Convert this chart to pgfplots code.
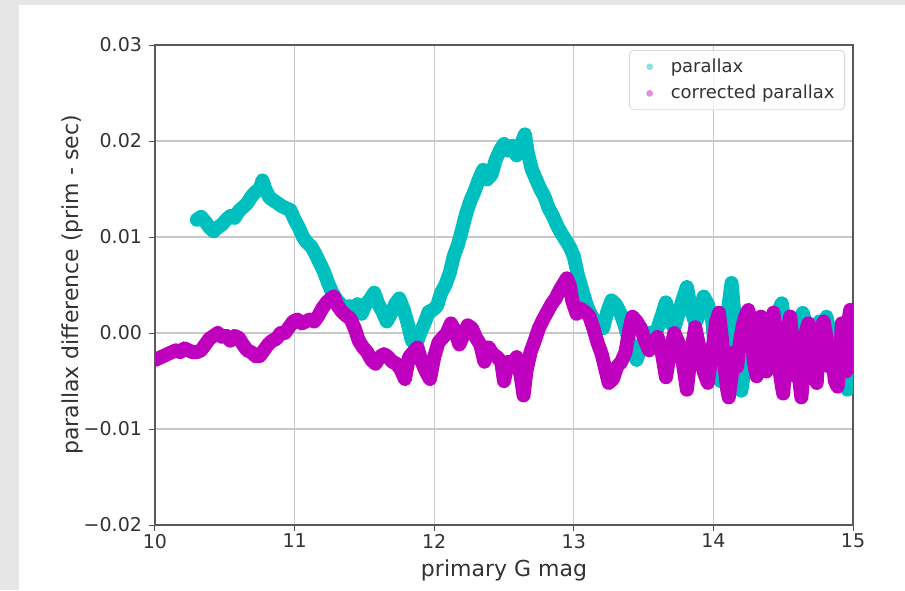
\documentclass[border=0pt]{standalone}
\usepackage{pgfplots}
\pgfplotsset{compat=1.18}
\usepackage{fontspec}
\setmainfont{DejaVu Sans}

\definecolor{mplc}{HTML}{00BFBF}
\definecolor{mplm}{HTML}{BF00BF}
\definecolor{pagegray}{HTML}{E6E6E6}
\definecolor{gridgray}{HTML}{C8C8C8}

% parallax difference (primary - secondary) vs primary G magnitude
\pgfplotstableread{
mag diff
10.30 0.0118
10.33 0.0121
10.36 0.0116
10.39 0.0110
10.42 0.0106
10.45 0.0110
10.48 0.0113
10.51 0.0118
10.54 0.0122
10.57 0.0120
10.60 0.0127
10.63 0.0131
10.66 0.0135
10.69 0.0142
10.72 0.0147
10.75 0.0150
10.77 0.0159
10.79 0.0150
10.82 0.0141
10.85 0.0138
10.88 0.0135
10.91 0.0132
10.94 0.0130
10.97 0.0128
11.00 0.0118
11.03 0.0110
11.06 0.0100
11.09 0.0094
11.12 0.0090
11.15 0.0082
11.18 0.0073
11.21 0.0064
11.24 0.0052
11.27 0.0042
11.30 0.0035
11.33 0.0030
11.36 0.0026
11.39 0.0028
11.42 0.0024
11.45 0.0030
11.48 0.0020
11.51 0.0030
11.54 0.0035
11.57 0.0042
11.60 0.0030
11.63 0.0022
11.66 0.0012
11.69 0.0020
11.72 0.0030
11.75 0.0036
11.78 0.0025
11.81 0.0010
11.84 -0.0008
11.87 -0.0012
11.90 0.0000
11.93 0.0010
11.96 0.0022
11.99 0.0024
12.02 0.0028
12.05 0.0042
12.08 0.0050
12.11 0.0062
12.14 0.0080
12.17 0.0092
12.20 0.0108
12.23 0.0125
12.26 0.0138
12.29 0.0148
12.32 0.0160
12.35 0.0170
12.38 0.0160
12.41 0.0165
12.44 0.0180
12.47 0.0190
12.50 0.0197
12.53 0.0190
12.56 0.0195
12.59 0.0185
12.62 0.0196
12.65 0.0207
12.67 0.0188
12.70 0.0170
12.73 0.0160
12.76 0.0150
12.79 0.0142
12.82 0.0130
12.85 0.0122
12.88 0.0112
12.91 0.0104
12.94 0.0097
12.97 0.0090
13.00 0.0080
13.03 0.0060
13.06 0.0045
13.09 0.0030
13.12 0.0020
13.15 0.0012
13.18 0.0010
13.21 0.0005
13.24 0.0022
13.27 0.0034
13.30 0.0030
13.33 0.0022
13.36 0.0010
13.39 -0.0005
13.42 -0.0020
13.45 -0.0028
13.48 -0.0015
13.51 -0.0005
13.54 0.0000
13.57 -0.0010
13.60 0.0005
13.63 0.0018
13.66 0.0032
13.69 0.0012
13.72 0.0005
13.75 0.0020
13.78 0.0035
13.81 0.0048
13.84 0.0025
13.87 0.0010
13.90 0.0020
13.93 0.0038
13.96 0.0030
13.99 0.0015
14.02 -0.0030
14.05 -0.0050
14.08 -0.0010
14.11 0.0030
14.13 0.0052
14.15 0.0020
14.17 -0.0020
14.20 -0.0060
14.23 -0.0030
14.26 -0.0035
14.29 -0.0030
14.32 -0.0010
14.35 -0.0025
14.38 -0.0015
14.41 -0.0018
14.44 0.0005
14.47 0.0025
14.49 0.0031
14.52 0.0000
14.55 -0.0028
14.58 -0.0010
14.61 0.0010
14.64 0.0021
14.67 0.0005
14.70 -0.0010
14.73 0.0005
14.76 0.0012
14.79 0.0008
14.81 0.0017
14.84 -0.0005
14.87 -0.0020
14.90 -0.0035
14.93 -0.0045
14.96 -0.0059
15.00 -0.0050
}\rawtable

% same difference after the parallax correction
\pgfplotstableread{
mag diff
10.00 -0.0028
10.03 -0.0026
10.06 -0.0024
10.09 -0.0022
10.12 -0.0020
10.15 -0.0018
10.18 -0.0020
10.21 -0.0016
10.24 -0.0018
10.27 -0.0020
10.30 -0.0020
10.33 -0.0018
10.36 -0.0012
10.39 -0.0006
10.42 -0.0003
10.45 0.0000
10.48 -0.0004
10.51 -0.0003
10.54 -0.0008
10.57 -0.0003
10.60 -0.0005
10.63 -0.0012
10.66 -0.0018
10.69 -0.0020
10.72 -0.0024
10.75 -0.0024
10.78 -0.0018
10.81 -0.0012
10.84 -0.0008
10.87 -0.0006
10.90 0.0000
10.93 0.0000
10.96 0.0006
10.99 0.0012
11.02 0.0014
11.05 0.0010
11.08 0.0012
11.11 0.0014
11.14 0.0012
11.17 0.0018
11.20 0.0026
11.23 0.0032
11.26 0.0036
11.28 0.0038
11.31 0.0028
11.34 0.0022
11.37 0.0018
11.40 0.0015
11.43 0.0005
11.46 -0.0008
11.49 -0.0015
11.52 -0.0020
11.55 -0.0028
11.58 -0.0032
11.61 -0.0025
11.64 -0.0022
11.67 -0.0025
11.70 -0.0030
11.73 -0.0032
11.76 -0.0038
11.79 -0.0048
11.82 -0.0025
11.85 -0.0020
11.88 -0.0015
11.91 -0.0030
11.94 -0.0040
11.97 -0.0048
12.00 -0.0025
12.03 -0.0010
12.06 -0.0005
12.09 0.0000
12.12 0.0010
12.15 0.0002
12.18 -0.0012
12.21 -0.0002
12.24 0.0008
12.27 0.0005
12.30 -0.0005
12.33 -0.0012
12.36 -0.0030
12.39 -0.0015
12.42 -0.0022
12.45 -0.0025
12.48 -0.0030
12.50 -0.0050
12.53 -0.0030
12.56 -0.0035
12.59 -0.0025
12.62 -0.0045
12.64 -0.0065
12.66 -0.0040
12.69 -0.0020
12.72 -0.0008
12.75 0.0005
12.78 0.0014
12.81 0.0022
12.84 0.0030
12.87 0.0036
12.90 0.0045
12.93 0.0052
12.95 0.0057
12.97 0.0050
12.99 0.0033
13.02 0.0020
13.05 0.0025
13.08 0.0022
13.11 0.0018
13.14 0.0005
13.17 -0.0010
13.20 -0.0022
13.23 -0.0040
13.25 -0.0052
13.28 -0.0048
13.31 -0.0035
13.34 -0.0030
13.37 -0.0020
13.40 0.0005
13.42 0.0017
13.45 0.0012
13.48 0.0005
13.51 -0.0008
13.54 -0.0018
13.57 -0.0012
13.60 -0.0004
13.63 -0.0020
13.66 -0.0046
13.69 -0.0020
13.72 0.0000
13.75 -0.0010
13.78 -0.0030
13.81 -0.0059
13.84 -0.0020
13.87 0.0006
13.90 -0.0015
13.93 -0.0040
13.96 -0.0052
13.98 -0.0030
14.00 -0.0010
14.02 0.0012
14.04 0.0021
14.06 -0.0005
14.08 -0.0035
14.10 -0.0060
14.11 -0.0067
14.13 -0.0045
14.15 -0.0020
14.17 -0.0035
14.19 -0.0010
14.21 0.0008
14.23 0.0018
14.25 0.0024
14.27 0.0005
14.29 -0.0030
14.31 -0.0045
14.32 -0.0010
14.34 0.0017
14.36 -0.0008
14.38 -0.0040
14.40 -0.0020
14.42 0.0012
14.43 0.0021
14.45 -0.0005
14.47 -0.0035
14.49 -0.0055
14.50 -0.0063
14.52 -0.0025
14.54 0.0010
14.55 0.0017
14.57 -0.0015
14.59 -0.0045
14.61 -0.0030
14.62 -0.0055
14.63 -0.0067
14.65 -0.0035
14.66 0.0000
14.68 0.0010
14.70 -0.0015
14.72 -0.0040
14.74 -0.0052
14.75 -0.0025
14.77 0.0005
14.79 0.0012
14.81 -0.0005
14.83 -0.0035
14.85 -0.0020
14.87 -0.0050
14.89 -0.0056
14.91 -0.0020
14.92 0.0010
14.94 -0.0010
14.95 -0.0040
14.97 0.0015
14.98 0.0024
15.00 0.0010
}\corrtable

\begin{document}
\begin{tikzpicture}[x=1pt,y=1pt]
% page background: grey margin on the left and top
\fill[pagegray] (0,0) rectangle (452.5,295);
\fill[white] (9.5,0) rectangle (452.5,292.5);
\begin{axis}[
  at={(77.5pt,32.5pt)}, anchor=south west,
  scale only axis, width=349pt, height=240pt,
  xmin=10, xmax=15, ymin=-0.02, ymax=0.03,
  xtick={10,11,12,13,14,15},
  xticklabels={10,11,12,13,14,15},
  ytick={-0.02,-0.01,0,0.01,0.02,0.03},
  yticklabels={−0.02,−0.01,0.00,0.01,0.02,0.03},
  scaled y ticks=false,
  tick align=outside, major tick length=3pt,
  tick style={black!70, line width=0.5pt},
  xtick pos=bottom, ytick pos=left,
  axis line style={black!65, line width=0.6pt},
  grid=major,
  major grid style={gridgray, line width=0.6pt},
  ticklabel style={font=\fontsize{9.5}{11}\selectfont, text=black!80},
  xticklabel style={yshift=2pt},
  every axis x label/.style={at={([yshift=-22.5pt]axis description cs:0.5,0)}, anchor=center},
  every axis y label/.style={at={([xshift=-41.5pt]axis description cs:0,0.5)}, rotate=90, anchor=center},
  label style={font=\fontsize{11}{13}\selectfont, text=black!80},
  xlabel={primary G mag},
  ylabel={parallax difference (prim - sec)},
  legend style={at={([xshift=-4pt,yshift=-2.5pt]rel axis cs:1,1)}, anchor=north east,
    draw=black!15, rounded corners=2pt, fill=white, fill opacity=0.8, text opacity=1,
    font=\fontsize{9}{11}\selectfont, text=black!80,
    inner xsep=3pt, inner ysep=2pt, row sep=1pt},
  legend cell align=left,
  legend image code/.code={\path[draw=none, fill=none] (0,0) -- (0.55cm,0);\fill[draw=none, opacity=0.45] (0.25cm,0) circle (1.7pt);},
]
\addplot[mplc, line width=7pt, line join=round, line cap=round] table[x=mag, y=diff] {\rawtable};
\addlegendentry{parallax}
\addplot[mplm, line width=7pt, line join=round, line cap=round] table[x=mag, y=diff] {\corrtable};
\addlegendentry{corrected parallax}
\end{axis}
\pgfresetboundingbox
\path[use as bounding box] (0,0) rectangle (452.5,295);
\end{tikzpicture}
\end{document}
